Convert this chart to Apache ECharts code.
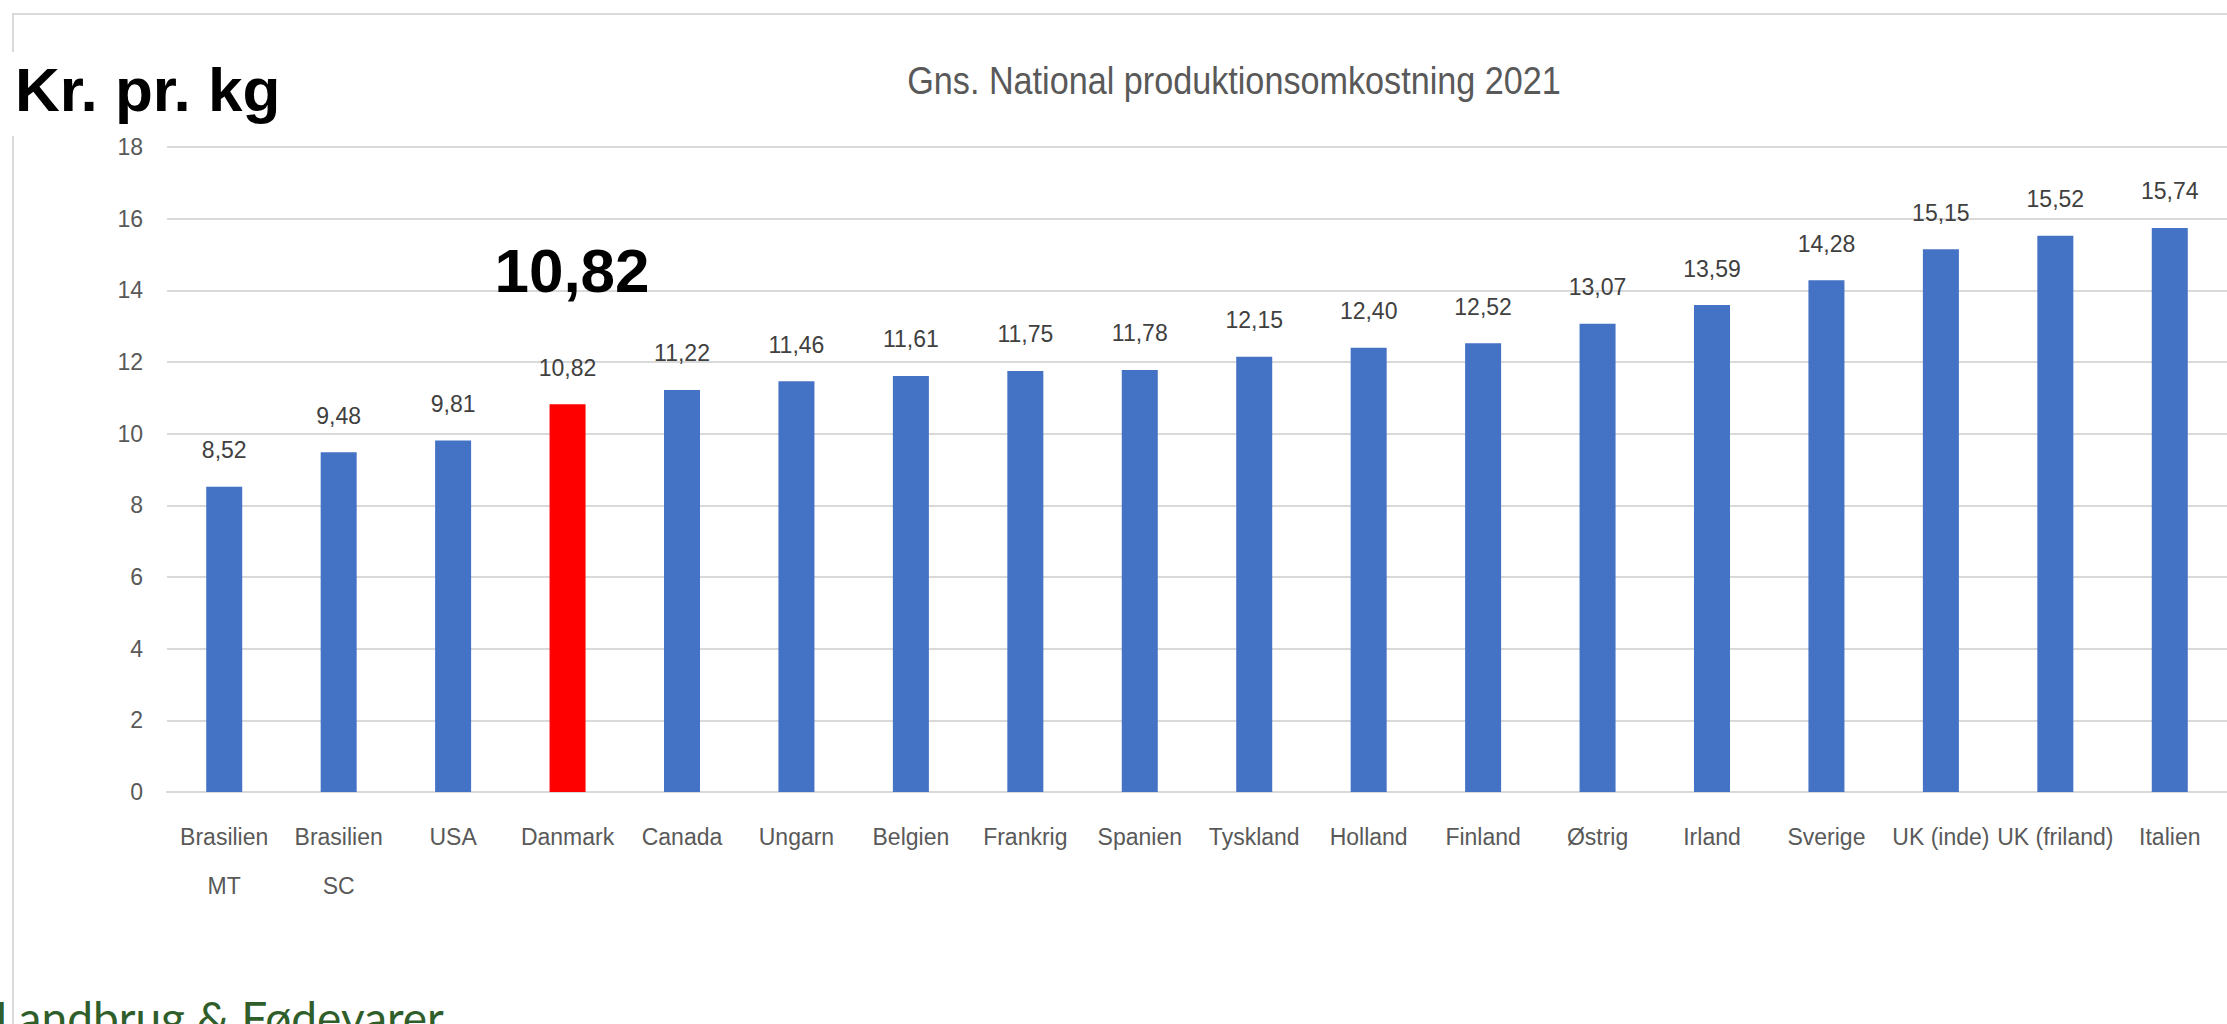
<!DOCTYPE html>
<html>
<head>
<meta charset="utf-8">
<script src="https://cdn.jsdelivr.net/npm/echarts@6/dist/echarts.min.js"></script>
<style>
  html, body { margin: 0; padding: 0; background: #ffffff; }
  #chart { width: 2227px; height: 1024px; }
</style>
</head>
<body>
<div id="chart"></div>
<script>
// ---- data ----
const categories = ['Brasilien\nMT', 'Brasilien\nSC', 'USA', 'Danmark', 'Canada', 'Ungarn', 'Belgien', 'Frankrig', 'Spanien', 'Tyskland', 'Holland', 'Finland', 'Østrig', 'Irland', 'Sverige', 'UK (inde)', 'UK (friland)', 'Italien'];
const values = [8.52, 9.48, 9.81, 10.82, 11.22, 11.46, 11.61, 11.75, 11.78, 12.15, 12.40, 12.52, 13.07, 13.59, 14.28, 15.15, 15.52, 15.74];
const highlightCategory = 'Danmark';
const yTicks = { min: 0, max: 18, interval: 2 };
const titleText = 'Gns. National produktionsomkostning 2021';
const unitText = 'Kr. pr. kg';
const brandText = 'Landbrug & Fødevarer';

const fmt = v => v.toFixed(2).replace('.', ',');
const highlightValue = values[categories.indexOf(highlightCategory)];

const FONT = '"Liberation Sans", Arial, Helvetica, sans-serif';

const chart = echarts.init(document.getElementById('chart'), null, { renderer: 'svg' });

const seriesData = values.map((v, i) => ({
  value: v,
  itemStyle: { color: categories[i] === highlightCategory ? '#FF0000' : '#4472C4' }
}));

chart.setOption({
  backgroundColor: '#ffffff',
  animation: false,
  grid: { left: 167, top: 147, width: 2079, height: 645, containLabel: false },
  xAxis: {
    type: 'category',
    data: categories,
    axisLine: { show: true, lineStyle: { color: '#D9D9D9', width: 2 } },
    axisTick: { show: false },
    axisLabel: {
      interval: 0,
      margin: 20,
      color: '#595959',
      fontFamily: FONT,
      fontSize: 23,
      lineHeight: 49
    }
  },
  yAxis: {
    type: 'value',
    min: yTicks.min,
    max: yTicks.max,
    interval: yTicks.interval,
    axisLine: { show: false },
    axisTick: { show: false },
    axisLabel: { color: '#595959', fontFamily: FONT, fontSize: 23, margin: 24 },
    splitLine: { lineStyle: { color: '#D9D9D9', width: 2 } }
  },
  series: [{
    type: 'bar',
    data: seriesData,
    barWidth: 36,
    label: {
      show: true,
      position: 'top',
      distance: 25,
      color: '#404040',
      fontFamily: FONT,
      fontSize: 23,
      formatter: p => fmt(p.value)
    }
  }],
  graphic: [
    {
      type: 'rect', z: -10, silent: true,
      shape: { x: 13, y: 14, width: 2400, height: 1200 },
      style: { fill: 'transparent', stroke: '#D9D9D9', lineWidth: 2 }
    },
    {
      type: 'rect', z: 50, silent: true,
      shape: { x: 0, y: 52, width: 300, height: 84 },
      style: { fill: '#ffffff' }
    },
    {
      type: 'text', z: 60, silent: true,
      x: 15, y: 89,
      style: { text: unitText, fill: '#000000', font: 'bold 62px ' + FONT, textAlign: 'left', textVerticalAlign: 'middle' }
    },
    {
      type: 'text', z: 60, silent: true,
      x: 1234, y: 81, scaleX: 0.9,
      style: { text: titleText, fill: '#595959', font: '38px ' + FONT, textAlign: 'center', textVerticalAlign: 'middle' }
    },
    {
      type: 'text', z: 60, silent: true,
      x: 572, y: 270,
      style: { text: fmt(highlightValue), fill: '#000000', font: 'bold 62px ' + FONT, textAlign: 'center', textVerticalAlign: 'middle' }
    },
    {
      type: 'text', z: 60, silent: true,
      x: -5, y: 1017,
      style: { text: brandText, fill: '#2F5E2B', font: '46px Lato, "Open Sans", sans-serif', textAlign: 'left', textVerticalAlign: 'middle' }
    }
  ]
});
</script>
</body>
</html>
